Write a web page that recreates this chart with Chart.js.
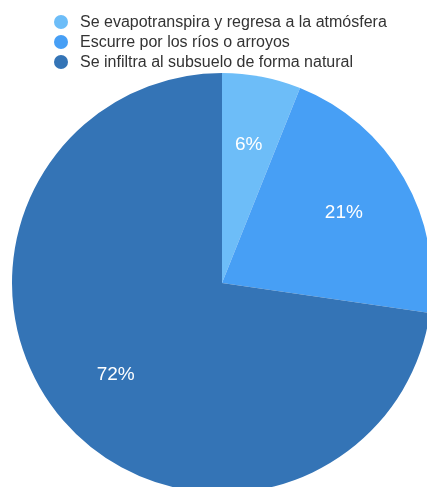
<!DOCTYPE html>
<html lang="es">
<head>
<meta charset="utf-8">
<title>Destino del agua de lluvia</title>
<script src="https://cdn.jsdelivr.net/npm/chart.js@4.4.1/dist/chart.umd.min.js"></script>
<style>
    html, body {
        margin: 0;
        padding: 0;
        width: 427px;
        height: 487px;
        overflow: hidden;
        background: #ffffff;
        font-family: "Liberation Sans", Arial, Helvetica, sans-serif;
    }
    #wrap {
        position: absolute;
        left: 0;
        top: 0;
        width: 444px;
        height: 493px;
    }
    #legend {
        position: absolute;
        left: 54px;
        top: 12px;
        margin: 0;
        padding: 0;
        list-style: none;
        z-index: 2;
    }
    #legend li {
        display: flex;
        align-items: center;
        height: 20px;
        font-size: 16px;
        color: #333333;
        white-space: nowrap;
    }
    #legend li span {
        display: inline-block;
        width: 14px;
        height: 14px;
        border-radius: 50%;
        margin-right: 12px;
    }
</style>
</head>
<body>
<ul id="legend"></ul>
<div id="wrap"><canvas id="waterChart"></canvas></div>
<script>
// Destination of rain water, in percent
const categories = [
    'Se evapotranspira y regresa a la atmósfera',
    'Escurre por los ríos o arroyos',
    'Se infiltra al subsuelo de forma natural'
];
const shares = [6, 21, 72];
const sliceColors = ['#6dbdf8', '#479ff5', '#3474b6'];

// white percentage text inside each slice
const sliceLabels = {
    id: 'sliceLabels',
    afterDatasetsDraw(chart) {
        const { ctx } = chart;
        const meta = chart.getDatasetMeta(0);
        ctx.save();
        ctx.fillStyle = '#ffffff';
        ctx.font = '19px "Liberation Sans", Arial, sans-serif';
        ctx.textAlign = 'center';
        ctx.textBaseline = 'middle';
        meta.data.forEach((arc, i) => {
            const p = arc.getProps(['x', 'y', 'startAngle', 'endAngle', 'outerRadius']);
            const mid = (p.startAngle + p.endAngle) / 2;
            const r = p.outerRadius * 0.67;
            ctx.fillText(shares[i] + '%', p.x + Math.cos(mid) * r, p.y + Math.sin(mid) * r);
        });
        ctx.restore();
    }
};

// build the legend list from the chart's own legend items
const htmlLegend = {
    id: 'htmlLegend',
    afterUpdate(chart) {
        const list = document.getElementById('legend');
        list.innerHTML = '';
        const items = chart.options.plugins.legend.labels.generateLabels(chart);
        items.forEach(item => {
            const li = document.createElement('li');
            const dot = document.createElement('span');
            dot.style.background = item.fillStyle;
            li.appendChild(dot);
            li.appendChild(document.createTextNode(item.text));
            list.appendChild(li);
        });
    }
};

new Chart(document.getElementById('waterChart'), {
    type: 'pie',
    data: {
        labels: categories,
        datasets: [{
            data: shares,
            backgroundColor: sliceColors,
            borderWidth: 0
        }]
    },
    options: {
        responsive: true,
        maintainAspectRatio: false,
        animation: false,
        layout: {
            padding: { left: 12, right: 12, top: 73, bottom: 0 }
        },
        plugins: {
            legend: { display: false },
            tooltip: { enabled: false }
        }
    },
    plugins: [sliceLabels, htmlLegend]
});
</script>
</body>
</html>
